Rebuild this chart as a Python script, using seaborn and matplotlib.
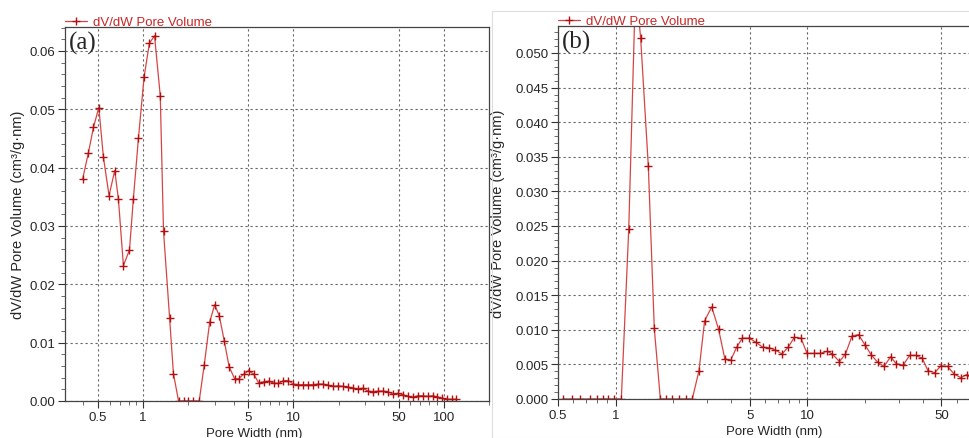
import numpy as np
import pandas as pd
import matplotlib
matplotlib.use("Agg")
import matplotlib.pyplot as plt
import matplotlib.ticker as mticker
from matplotlib.patches import Rectangle
import seaborn as sns

# panel (a) data: pore width (nm) / dV/dW (cm3/g.nm)
width_a = [0.396, 0.432, 0.467, 0.507, 0.544, 0.593, 0.647, 0.684, 0.739, 0.811,
           0.861, 0.930, 1.015, 1.10, 1.19, 1.30, 1.366, 1.50, 1.59, 1.72,
           1.86, 2.0, 2.16, 2.36, 2.55, 2.77, 2.99, 3.21, 3.47, 3.73,
           4.06, 4.32, 4.66, 5.03, 5.44, 5.87, 6.33, 6.83, 7.37, 7.95,
           8.58, 9.26, 9.99, 10.8, 11.6, 12.5, 13.5, 14.6, 15.8, 17.0,
           18.4, 19.8, 21.4, 23.1, 24.9, 26.9, 29.0, 31.3, 33.8, 36.4,
           39.3, 42.4, 45.8, 49.4, 53.3, 57.5, 62.1, 67.0, 72.3, 78.0,
           84.2, 90.8, 98.0, 105.8, 114.1, 121.0]
vol_a = [0.0381, 0.0425, 0.0469, 0.0503, 0.0418, 0.0352, 0.0395, 0.0347, 0.0232, 0.0259,
         0.0347, 0.0450, 0.0556, 0.0613, 0.0626, 0.0523, 0.0291, 0.0142, 0.0047, 0.0,
         0.0, 0.0, 0.0, 0.0, 0.0062, 0.0135, 0.0165, 0.0146, 0.0102, 0.0059,
         0.0038, 0.0038, 0.0046, 0.0052, 0.0046, 0.0031, 0.0033, 0.0034, 0.0031, 0.0030,
         0.0035, 0.0035, 0.0029, 0.0028, 0.0028, 0.0028, 0.0028, 0.0029, 0.0029, 0.0027,
         0.0025, 0.0026, 0.0025, 0.0024, 0.0022, 0.0021, 0.0022, 0.0017, 0.0016, 0.0017,
         0.0017, 0.0016, 0.0012, 0.0013, 0.0011, 0.0008, 0.0006, 0.0009, 0.0009, 0.0008,
         0.0009, 0.0007, 0.0005, 0.0003, 0.0003, 0.0003]

# panel (b) data
width_b = [0.53, 0.59, 0.65, 0.73, 0.80, 0.86, 0.91, 0.98, 1.07, 1.17,
           1.27, 1.35, 1.48, 1.59, 1.71, 1.84, 1.97, 2.14, 2.32, 2.51,
           2.72, 2.91, 3.17, 3.44, 3.71, 3.98, 4.28, 4.58, 4.97, 5.39,
           5.84, 6.33, 6.8, 7.37, 7.95, 8.55, 9.26, 9.96, 10.8, 11.7,
           12.7, 13.5, 14.7, 15.8, 17.1, 18.5, 20.0, 21.5, 23.3, 25.1,
           27.2, 29.1, 31.6, 34.2, 36.8, 39.7, 42.6, 46.2, 49.7, 53.9,
           58.3, 63.2, 67.7, 72.5]
vol_b = [0.0, 0.0, 0.0, 0.0, 0.0, 0.0, 0.0, 0.0, 0.0, 0.0246,
         0.0600, 0.0521, 0.0336, 0.0102, 0.0, 0.0, 0.0, 0.0, 0.0, 0.0,
         0.0041, 0.0113, 0.0133, 0.0101, 0.0058, 0.0056, 0.0075, 0.0088, 0.0088, 0.0082,
         0.0075, 0.0074, 0.0071, 0.0065, 0.0075, 0.0089, 0.0088, 0.0066, 0.0066, 0.0066,
         0.0069, 0.0065, 0.0054, 0.0065, 0.0091, 0.0093, 0.0078, 0.0064, 0.0053, 0.0047,
         0.0061, 0.0051, 0.0049, 0.0063, 0.0063, 0.0059, 0.0041, 0.0038, 0.0048, 0.0047,
         0.0036, 0.0031, 0.0035, 0.0033]

xticks_a = [0.5, 1, 5, 10, 50, 100]
xticks_b = [0.5, 1, 5, 10, 50]

sns.set_style("white")
plt.rcParams['font.family'] = ['Liberation Sans', 'DejaVu Sans']

LINE = '#d64545'
MARK = '#b01010'
GRID = '#666666'

fig = plt.figure(figsize=(9.7, 4.39), dpi=100)
W, H = 970.0, 439.0


def px_axes(l, t, r, b):
    return fig.add_axes([l / W, 1 - b / H, (r - l) / W, (b - t) / H])


ax_a = px_axes(65, 28, 489, 402)
ax_b = px_axes(558, 27, 990, 400)

# light frame around panel (b)
fig.add_artist(Rectangle((492 / W, 0), (W - 492) / W, (H - 12) / H, transform=fig.transFigure,
                         fill=False, edgecolor='#dddddd', lw=0.8))


def draw(ax, x, y, xlim, ylim, yticks, yfmt, yminor, xticks, tag, xlab_center):
    df = pd.DataFrame({'w': x, 'v': y})
    sns.lineplot(data=df, x='w', y='v', ax=ax, sort=False, color=LINE, lw=0.9,
                 marker='+', markersize=5.5, markeredgecolor=MARK, markeredgewidth=1.0,
                 label='dV/dW Pore Volume')
    ax.set_xscale('log')
    ax.set_xlim(*xlim)
    ax.set_ylim(*ylim)
    ax.set_xticks(xticks)
    ax.xaxis.set_major_formatter(mticker.FuncFormatter(lambda v, p: f"{v:g}"))
    ax.xaxis.set_minor_locator(mticker.LogLocator(base=10, subs=np.arange(2, 10)))
    ax.xaxis.set_minor_formatter(mticker.NullFormatter())
    ax.set_yticks(yticks)
    ax.yaxis.set_major_formatter(mticker.FormatStrFormatter(yfmt))
    ax.yaxis.set_minor_locator(mticker.MultipleLocator(yminor))
    ax.tick_params(which='major', direction='out', length=5, width=0.8, labelsize=9.5,
                   color='#333333', left=True, bottom=True, pad=2)
    ax.tick_params(which='minor', direction='out', length=3, width=0.6,
                   color='#555555', left=True, bottom=True)
    ax.grid(True, which='major', color=GRID, linestyle=(0, (2, 2.5)), lw=0.8)
    for s in ax.spines.values():
        s.set_color('#444444')
        s.set_linewidth(0.9)
    ax.set_xlabel('Pore Width (nm)', fontsize=9.5)
    ax.set_ylabel('dV/dW Pore Volume (cm³/g·nm)', fontsize=10.5)
    ax.xaxis.set_label_coords(xlab_center, -0.07)
    ax.text(0.008, 0.99, tag, transform=ax.transAxes, ha='left', va='top',
            fontsize=18, family=['Liberation Serif', 'DejaVu Serif'])
    leg = ax.legend(loc='lower left', bbox_to_anchor=(0.0, 0.997), frameon=False,
                    borderaxespad=0, borderpad=0, handlelength=1.7, handletextpad=0.4,
                    fontsize=9.5)
    for t in leg.get_texts():
        t.set_color('#c82828')


draw(ax_a, width_a, vol_a, (0.302, 200), (0, 0.0641),
     [0, 0.01, 0.02, 0.03, 0.04, 0.05, 0.06], '%.2f', 0.002, xticks_a, '(a)',
     (254 - 65) / 424)
draw(ax_b, width_b, vol_b, (0.5, 10 ** ((990 - 617) / 191.0)), (0, 0.0539),
     [0, 0.005, 0.01, 0.015, 0.02, 0.025, 0.03, 0.035, 0.04, 0.045, 0.05], '%.3f', 0.001,
     xticks_b, '(b)', (774 - 558) / 432)
ax_a.yaxis.labelpad = 3
ax_b.yaxis.labelpad = 7

fig.savefig('out.png', dpi=100)
